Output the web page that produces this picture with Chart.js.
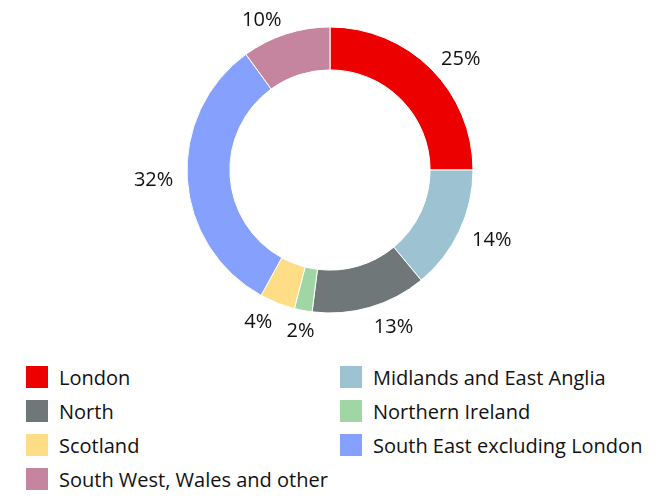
<!DOCTYPE html>
<html>
<head>
<meta charset="utf-8">
<script src="https://cdn.jsdelivr.net/npm/chart.js@4.4.1/dist/chart.umd.min.js"></script>
<style>
  body { margin: 0; background: #fff; font-family: "Open Sans", sans-serif; }
  #wrap { position: relative; width: 660px; height: 500px; }
  #chart { position: absolute; left: 0; top: 0; }
  #legend {
    position: absolute; left: 26px; top: 360px;
    display: grid; grid-template-columns: 314px 300px; grid-auto-rows: 34px;
    font-size: 20px; color: #111;
  }
  .item { display: flex; align-items: center; white-space: nowrap; }
  .box { width: 22px; height: 22px; margin-right: 11px; flex: none; }
</style>
</head>
<body>
<div id="wrap">
  <canvas id="chart" width="660" height="340"></canvas>
  <div id="legend"></div>
</div>
<script>
var regions = ["London", "Midlands and East Anglia", "North", "Northern Ireland", "Scotland", "South East excluding London", "South West, Wales and other"];
var shares = [25, 14, 13, 2, 4, 32, 10];
var colours = ["#ec0000", "#9dc3d3", "#6f7779", "#9fd6a4", "#ffdc86", "#86a0fd", "#c5859f"];

// percent labels just outside the ring
var outsideLabels = {
  id: 'outsideLabels',
  afterDatasetsDraw: function(chart) {
    var ctx = chart.ctx;
    var meta = chart.getDatasetMeta(0);
    ctx.save();
    ctx.font = '20px "Open Sans"';
    ctx.fillStyle = '#111';
    ctx.textBaseline = 'middle';
    meta.data.forEach(function(arc, i) {
      var p = arc.getProps(['x', 'y', 'startAngle', 'endAngle', 'outerRadius'], true);
      var a = (p.startAngle + p.endAngle) / 2;
      var dx = Math.cos(a), dy = Math.sin(a);
      var r = p.outerRadius + 14;
      var tx = p.x + dx * r;
      var ty = p.y + dy * r + Math.max(0, dy) * 7;
      if (dx > 0.2) ctx.textAlign = 'left';
      else if (dx < -0.2) ctx.textAlign = 'right';
      else ctx.textAlign = 'center';
      ctx.fillText(shares[i] + '%', tx, ty);
    });
    ctx.restore();
  }
};

var ctx = document.getElementById('chart').getContext('2d');
new Chart(ctx, {
  type: 'doughnut',
  data: {
    labels: regions,
    datasets: [{ data: shares, backgroundColor: colours, borderColor: '#ffffff', borderWidth: 1 }]
  },
  options: {
    responsive: false,
    animation: false,
    cutout: '70%',
    layout: { padding: { top: 26.5, bottom: 26.5 } },
    plugins: { legend: { display: false }, tooltip: { enabled: false } }
  },
  plugins: [outsideLabels]
});

var legend = document.getElementById('legend');
regions.forEach(function(name, i) {
  var el = document.createElement('div');
  el.className = 'item';
  el.innerHTML = '<span class="box" style="background:' + colours[i] + '"></span><span>' + name + '</span>';
  legend.appendChild(el);
});
</script>
</body>
</html>
